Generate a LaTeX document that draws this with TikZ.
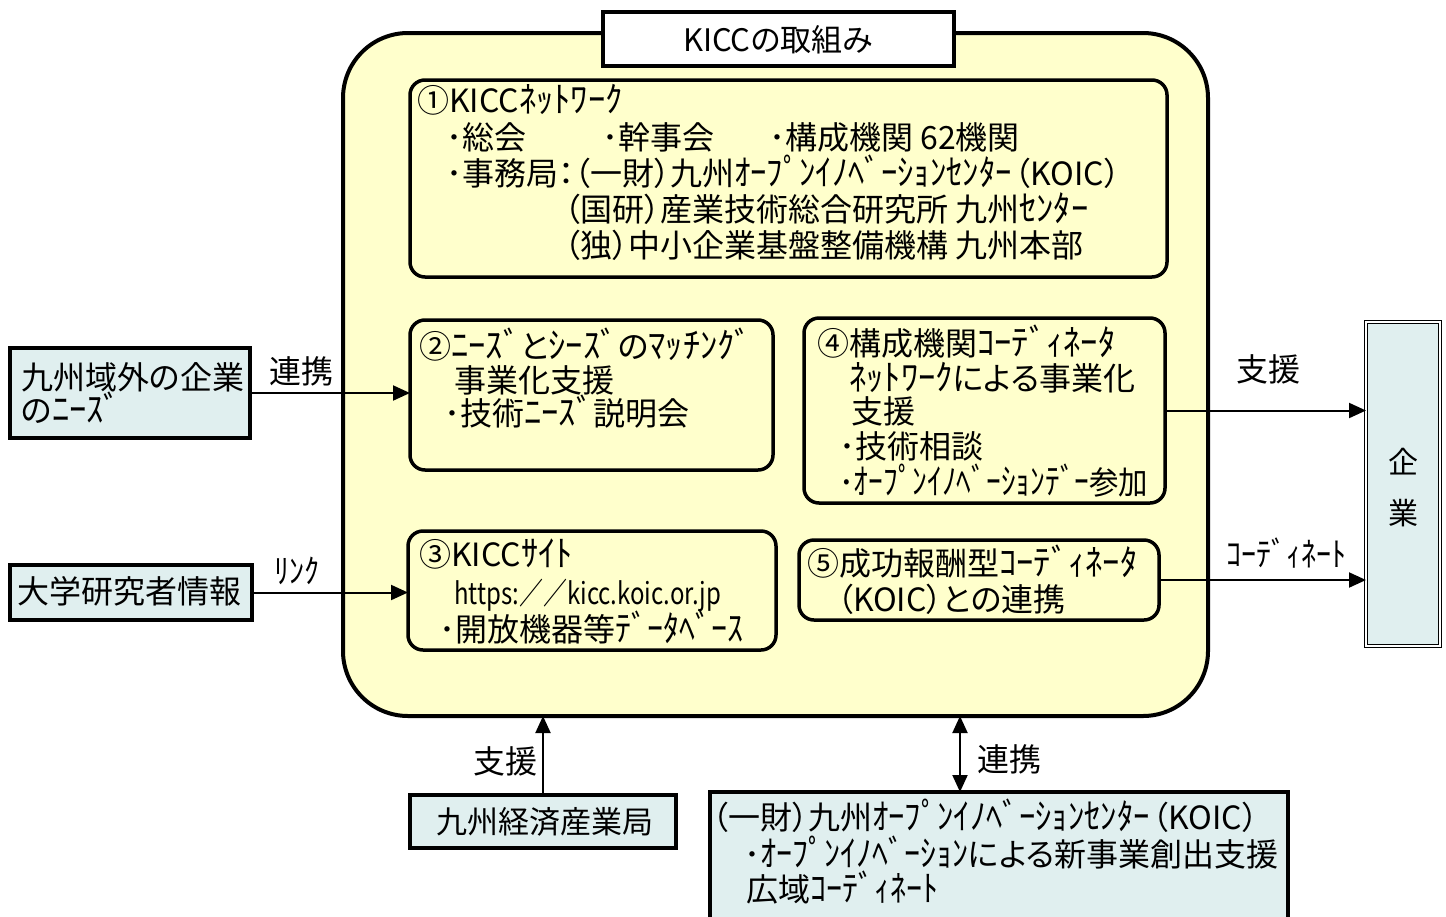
\documentclass[tikz,border=0pt]{standalone}
\usepackage{fontspec}
\setmainfont{Noto Sans CJK JP}[RawFeature=+palt]
\usetikzlibrary{arrows.meta,fit}
\definecolor{kiyellow}{RGB}{255,255,204}
\definecolor{kiblue}{RGB}{224,239,239}
\newcommand\sx[2]{\scalebox{#1}[1]{#2}}
\newcommand\hk[2][1.08]{\scalebox{#1}[1.12]{#2}}
\begin{document}
\begin{tikzpicture}[x=1bp,y=-1bp,
  mainbox/.style={draw, line width=4bp, rounded corners=65bp, fill=kiyellow, inner sep=0pt, outer sep=0pt},
  inbox/.style={draw, line width=3.5bp, rounded corners=15bp, fill=kiyellow, inner sep=0pt, outer sep=0pt},
  titlebox/.style={draw, line width=3.5bp, fill=white, inner sep=0pt, outer sep=0pt},
  extbox/.style={draw, line width=4bp, fill=kiblue, inner sep=0pt, outer sep=0pt},
  dblbox/.style={draw, double, double distance=2.5bp, line width=1.2bp, fill=kiblue, inner sep=0pt, outer sep=0pt},
  t/.style={anchor=west, inner sep=0pt, text height=25bp, text depth=2bp, font=\fontsize{32bp}{36bp}\selectfont},
  tc/.style={t, anchor=center},
  arr/.style={line width=2bp, -{Triangle[length=17bp,width=15bp]}},
  darr/.style={line width=2bp, {Triangle[length=17bp,width=15bp]}-{Triangle[length=17bp,width=15bp]}}
]
\useasboundingbox (0,0) rectangle (1446,916);
\clip (0,0) rectangle (1446,916);

% main container
\node[mainbox, fit={(343,33) (1208,716)}] (main) {};
\node[titlebox, fit={(603,12) (954,66)}] (title) {};
\node[tc, font=\fontsize{31bp}{36bp}\selectfont] (titletxt) at (778,40) {KICCの取組み};

% inner boxes
\node[inbox, fit={(410,80) (1167,277)}] (b1) {};
\node[inbox, fit={(410,320) (773,470)}] (b2) {};
\node[inbox, fit={(804,318) (1165,503)}] (b4) {};
\node[inbox, fit={(408,531) (776,650)}] (b3) {};
\node[inbox, fit={(799,540) (1159,620)}] (b5) {};

% box 1 text
\node[t] (b1a) at (417,101) {①KICC\hk{ﾈｯﾄﾜｰｸ}};
\node[t] (b1b) at (446,138) {･総会};
\node[t] (b1c) at (602,138) {･幹事会};
\node[t] (b1d) at (769,138) {･構成機関 62機関};
\node[t] (b1e) at (446,174) {･事務局：（一財）九州\hk[1.02]{ｵｰﾌﾟﾝｲﾉﾍﾞｰｼｮﾝｾﾝﾀｰ}\kern3bp（KOIC）};
\node[t] (b1f) at (564,210) {（国研）産業技術総合研究所 九州\hk{ｾﾝﾀｰ}};
\node[t] (b1g) at (564,246) {（独）中小企業基盤整備機構 九州本部};

% box 2 text
\node[t] (b2a) at (419,347) {②\hk{ﾆｰｽﾞ}と\hk{ｼｰｽﾞ}の\hk{ﾏｯﾁﾝｸﾞ}};
\node[t] (b2b) at (454,381) {事業化支援};
\node[t] (b2c) at (444,414) {･技術\hk{ﾆｰｽﾞ}説明会};

% box 4 text
\node[t] (b4a) at (817,344) {④構成機関\hk{ｺｰﾃﾞｨﾈｰﾀ}};
\node[t] (b4b) at (849,379) {\hk{ﾈｯﾄﾜｰｸ}による事業化};
\node[t] (b4c) at (851,412) {支援};
\node[t] (b4d) at (839,447) {･技術相談};
\node[t] (b4e) at (839,483) {\sx{0.92}{･\hk[1]{ｵｰﾌﾟﾝｲﾉﾍﾞｰｼｮﾝﾃﾞｰ}参加}};

% box 3 text
\node[t] (b3a) at (419,555) {③KICC\hk{ｻｲﾄ}};
\node[t, font=\fontsize{30bp}{36bp}\selectfont] (b3b) at (454,593) {\sx{0.8}{https:／／kicc.koic.or.jp}};
\node[t] (b3c) at (439,630) {･開放機器等\hk[1]{ﾃﾞｰﾀﾍﾞｰｽ}};

% box 5 text
\node[t] (b5a) at (807,564) {⑤成功報酬型\hk{ｺｰﾃﾞｨﾈｰﾀ}};
\node[t] (b5b) at (837,600) {（KOIC）との連携};

% external boxes
\node[extbox, fit={(10,348) (250,438)}] (ext1) {};
\node[t] (ext1a) at (21,378) {九州域外の企業};
\node[t] (ext1b) at (21,411) {の\hk{ﾆｰｽﾞ}};

\node[extbox, fit={(10,565) (252,620)}] (ext2) {};
\node[t] (ext2a) at (17,592) {大学研究者情報};

\node[dblbox, fit={(1366,322) (1440,646)}] (corp) {};
\node[tc, font=\fontsize{30bp}{36bp}\selectfont] (corpa) at (1403,462) {企};
\node[tc, font=\fontsize{30bp}{36bp}\selectfont] (corpb) at (1403,513) {業};

\node[extbox, fit={(410,795) (676,848)}] (kyushu) {};
\node[tc, font=\fontsize{31bp}{36bp}\selectfont] (kyushua) at (545,822) {九州経済産業局};

\node[extbox, fit={(710,792) (1288,940)}] (koic) {};
\node[t] (koica) at (712,818) {（一財）九州\hk[1.02]{ｵｰﾌﾟﾝｲﾉﾍﾞｰｼｮﾝｾﾝﾀｰ}\kern3bp（KOIC）};
\node[t] (koicb) at (744,855) {･\hk[1]{ｵｰﾌﾟﾝｲﾉﾍﾞｰｼｮﾝ}による新事業創出支援};
\node[t] (koicc) at (746,890) {広域\hk[1]{ｺｰﾃﾞｨﾈｰﾄ}};

% connectors
\draw[arr] (ext1.east) -- (ext1.east -| b2.west);
\node[tc] (lab1) at (301,372) {連携};
\draw[arr] (ext2.east) -- (ext2.east -| b3.west);
\node[tc, font=\fontsize{30bp}{36bp}\selectfont] (lab2) at (297,572) {\hk[1]{ﾘﾝｸ}};
\draw[arr] (b4.east) -- (b4.east -| corp.west);
\node[tc] (lab3) at (1268,370) {支援};
\draw[arr] (b5.east) -- (b5.east -| corp.west);
\node[tc, font=\fontsize{30bp}{36bp}\selectfont] (lab4) at (1286,555) {\hk[1]{ｺｰﾃﾞｨﾈｰﾄ}};
\draw[arr] (kyushu.north) -- (kyushu.north |- main.south);
\node[tc] (lab5) at (505,762) {支援};
\coordinate (kot) at ([xshift=-39bp]koic.north);
\draw[darr] (kot) -- (kot |- main.south);
\node[tc] (lab6) at (1009,760) {連携};
\end{tikzpicture}
\end{document}
